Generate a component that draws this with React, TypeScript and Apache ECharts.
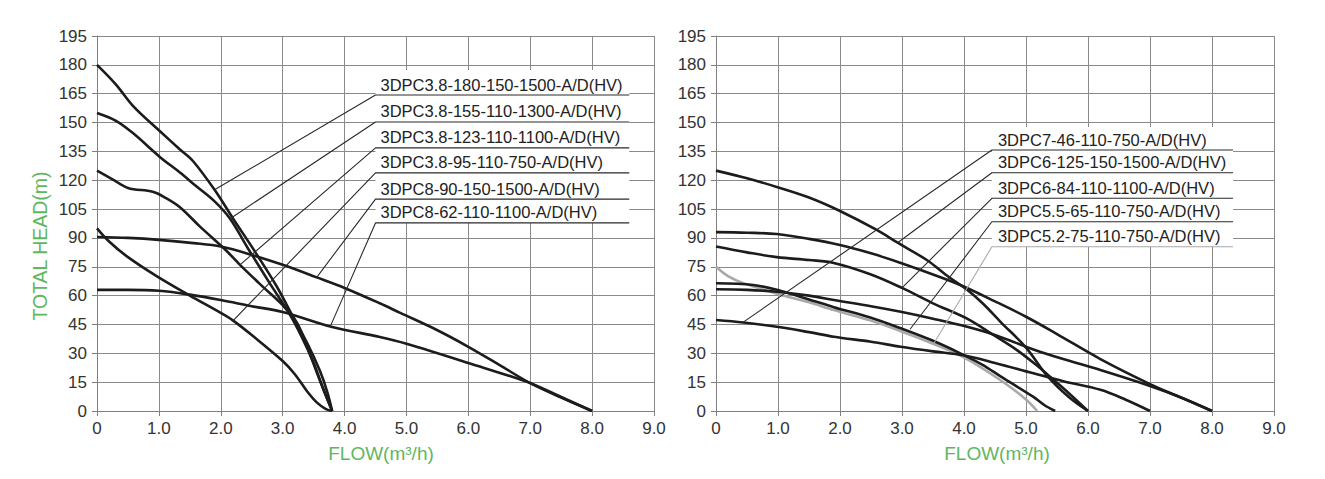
import React, { useEffect, useRef } from "react";
import * as echarts from "echarts";

// ---------- data ----------
const X_MAX = 9;
const Y_MAX = 195;
const X_INTERVAL = 1;
const Y_INTERVAL = 15;

// left chart curves [flow m3/h, head m]
const L180 = [[0,180],[0.3,170],[0.6,158],[1.0,146],[1.34,136],[1.55,130],[1.9,115],[2.2,100],[2.55,83],[2.9,65],[3.15,50],[3.4,35],[3.6,21],[3.72,10],[3.8,0]];
const L155 = [[0,155],[0.3,151],[0.58,144.5],[1.02,132],[1.34,124],[1.6,117],[1.9,109],[2.15,100],[2.45,84],[2.8,66],[3.1,51],[3.3,39],[3.5,25],[3.65,12],[3.8,0]];
const L123 = [[0,125],[0.25,120.5],[0.5,116],[0.9,114],[1.1,111],[1.34,106],[1.66,96],[2.07,84],[2.31,76],[2.7,64],[3.0,55],[3.23,46],[3.4,33],[3.6,16],[3.8,0]];
const L95 = [[0,95],[0.2,88],[0.5,80],[0.97,70],[1.5,60],[2.0,51],[2.2,47],[2.5,39.5],[3.0,26],[3.2,19],[3.4,10],[3.55,4.5],[3.7,1],[3.8,0]];
const L90 = [[0,90.5],[0.5,90],[1.0,89],[1.56,87.3],[2.0,85.5],[2.52,81],[3.0,76],[3.55,69.5],[4.0,64],[4.57,56],[4.9,51],[5.5,42],[6.0,33.4],[6.5,24],[7.0,14.5],[7.5,7],[8.0,0]];
const L62 = [[0,63],[0.5,63],[1.0,62.5],[1.5,60.5],[2.0,57.7],[2.5,54.5],[3.0,51.5],[3.8,43.7],[4.57,38.5],[5.0,35],[6.0,25],[7.0,14.5],[7.5,7.3],[8.0,0]];

// right chart curves
const R125 = [[0,125],[0.5,121],[0.98,116.5],[1.5,111],[2.0,104],[2.6,94],[2.93,87.5],[3.4,78.5],[3.7,71],[4.05,63],[4.3,56],[4.6,46],[5.0,33],[5.35,18],[5.7,7],[6.0,0]];
const R93 = [[0,93],[0.5,92.7],[0.98,92],[1.5,89.5],[2.0,86.3],[2.5,82],[2.98,77],[3.5,71],[3.94,65.5],[4.5,57],[5.0,49],[5.5,40],[6.2,27],[7.0,14],[7.5,7],[8.0,0]];
const R85 = [[0,85.5],[0.5,82.5],[0.98,80],[1.5,78.5],[1.9,77],[2.5,71],[3.0,64],[3.5,56],[4.05,48],[4.5,39],[4.86,31.5],[5.2,23],[5.4,17.5],[5.7,9],[6.0,0]];
const R75 = [[0,75],[0.2,70],[0.44,66.5],[0.98,61],[1.5,56.5],[1.9,52.5],[2.5,47],[2.98,41.5],[3.5,35],[3.99,28],[4.59,16],[5.0,6],[5.18,0]];
const R66 = [[0,66.4],[0.6,65.5],[0.98,63],[1.5,58],[1.9,54],[2.5,48.5],[2.98,43],[3.5,36.5],[3.94,30],[4.3,24],[4.59,18],[5.12,7.3],[5.3,3],[5.47,0]];
const R63 = [[0,63.3],[0.5,63],[0.98,62],[1.5,60],[1.9,57.7],[2.5,54.5],[2.98,51.6],[3.5,48],[4.05,43.8],[4.5,39.5],[5.12,32],[5.6,27],[6.2,21.3],[7.0,13],[7.5,7],[8.0,0]];
const R47 = [[0,47.3],[0.44,46],[0.98,43.8],[1.5,41],[1.9,38.6],[2.5,36],[2.98,33.4],[3.5,31],[3.99,29],[4.5,25],[5.12,19.6],[5.6,15.5],[6.2,11],[6.6,6],[7.0,0]];

const LEFT_LABELS = [
  "3DPC3.8-180-150-1500-A/D(HV)",
  "3DPC3.8-155-110-1300-A/D(HV)",
  "3DPC3.8-123-110-1100-A/D(HV)",
  "3DPC3.8-95-110-750-A/D(HV)",
  "3DPC8-90-150-1500-A/D(HV)",
  "3DPC8-62-110-1100-A/D(HV)",
];
const LEFT_TARGETS = [[1.9,115],[2.15,100],[2.31,76],[2.2,47],[3.55,69.5],[3.77,44]];
const LEFT_LABEL_Y = [164.3,150.3,136.8,123.8,110.2,97.8];

const RIGHT_LABELS = [
  "3DPC7-46-110-750-A/D(HV)",
  "3DPC6-125-150-1500-A/D(HV)",
  "3DPC6-84-110-1100-A/D(HV)",
  "3DPC5.5-65-110-750-A/D(HV)",
  "3DPC5.2-75-110-750-A/D(HV)",
];
const RIGHT_TARGETS = [[0.44,46.2],[2.93,87.5],[3.0,64],[3.13,42.5],[3.51,35]];
const RIGHT_LABEL_Y = [135.7,123.9,110.6,98.4,85.4];

// ---------- layout ----------
const W = 1325, H = 479;
const TOP = 36, PH = 375;
const G = [
  { left: 97, width: 557, jointX: 4.5, endX: 8.6, boxTop: 70 },
  { left: 716, width: 558, jointX: 4.45, endX: 8.34, boxTop: 127 },
];
const FONT = "'Liberation Sans', Arial, Helvetica, sans-serif";
const GREEN = "#5fb760";
const CURVE = "#1c1c1c";
const GRAYC = "#a9a9a9";

const px = (g: number, x: number) => G[g].left + (x / X_MAX) * G[g].width;
const py = (y: number) => TOP + ((Y_MAX - y) / Y_MAX) * PH;

export default function App() {
  const ref = useRef<HTMLDivElement>(null);
  useEffect(() => {
    if (!ref.current) return;
    const chart = echarts.init(ref.current, null, { renderer: "svg" });

    const mkAxisX = (i: number) => ({
      type: "value", gridIndex: i, min: 0, max: X_MAX, interval: X_INTERVAL,
      axisLine: { show: true, lineStyle: { color: "#808080", width: 1 } },
      axisTick: { show: true, length: 5, lineStyle: { color: "#808080" } },
      splitLine: { show: true, lineStyle: { color: "#8a8a8a", width: 1 } },
      axisLabel: {
        color: "#333", fontSize: 17, fontFamily: FONT, margin: 9,
        formatter: (v: number) => (v === 0 ? "0" : v.toFixed(1)),
      },
    });
    const mkAxisY = (i: number) => ({
      type: "value", gridIndex: i, min: 0, max: Y_MAX, interval: Y_INTERVAL,
      axisLine: { show: true, lineStyle: { color: "#808080", width: 1 } },
      axisTick: { show: true, length: 5, lineStyle: { color: "#808080" } },
      splitLine: { show: true, lineStyle: { color: "#8a8a8a", width: 1 } },
      axisLabel: { color: "#333", fontSize: 17, fontFamily: FONT, margin: 10 },
    });

    const curve = (g: number, data: number[][], color = CURVE) => ({
      type: "line", xAxisIndex: g, yAxisIndex: g, data, showSymbol: false,
      smooth: 0.35, z: 3,
      lineStyle: { color, width: 2.6 }, silent: true,
    });
    const leader = (g: number, target: number[], ly: number, color = "#2a2a2a") => ({
      type: "line", xAxisIndex: g, yAxisIndex: g, showSymbol: false, z: 4,
      data: [target, [G[g].jointX, ly], [G[g].endX, ly]],
      lineStyle: { color, width: 1.1 }, silent: true,
    });

    const series: any[] = [
      curve(0, L180), curve(0, L155), curve(0, L123), curve(0, L95), curve(0, L90), curve(0, L62),
      curve(1, R125), curve(1, R93), curve(1, R85), curve(1, R75, GRAYC), curve(1, R66), curve(1, R63), curve(1, R47),
    ];
    LEFT_TARGETS.forEach((t, i) => series.push(leader(0, t, LEFT_LABEL_Y[i])));
    RIGHT_TARGETS.forEach((t, i) =>
      series.push(leader(1, t, RIGHT_LABEL_Y[i], i === 4 ? GRAYC : "#2a2a2a")));

    const graphic: any[] = [];
    graphic.push({
      type: "rect", z: 1,
      shape: { x: px(0, G[0].jointX), y: G[0].boxTop, width: px(0, G[0].endX) - px(0, G[0].jointX), height: py(LEFT_LABEL_Y[5]) - G[0].boxTop },
      style: { fill: "#fff" },
    });
    graphic.push({
      type: "rect", z: 1,
      shape: { x: px(1, G[1].jointX), y: G[1].boxTop, width: px(1, G[1].endX) - px(1, G[1].jointX), height: py(RIGHT_LABEL_Y[4]) - G[1].boxTop },
      style: { fill: "#fff" },
    });
    LEFT_LABELS.forEach((t, i) =>
      graphic.push({
        type: "text", z: 10, x: px(0, G[0].jointX) + 5, y: py(LEFT_LABEL_Y[i]) - 10.5,
        style: { text: t, fill: "#222", font: `16.5px ${FONT}`, textAlign: "left", textVerticalAlign: "middle" },
      }));
    RIGHT_LABELS.forEach((t, i) =>
      graphic.push({
        type: "text", z: 10, x: px(1, G[1].jointX) + 6, y: py(RIGHT_LABEL_Y[i]) - 10.5,
        style: { text: t, fill: "#222", font: `16.5px ${FONT}`, textAlign: "left", textVerticalAlign: "middle" },
      }));
    graphic.push({
      type: "text", z: 10, x: 40, y: 246, rotation: Math.PI / 2,
      style: { text: "TOTAL HEAD(m)", fill: GREEN, font: `19.5px ${FONT}`, textAlign: "center", textVerticalAlign: "middle" },
    });
    graphic.push({
      type: "text", z: 10, x: 381, y: 453,
      style: { text: "FLOW(m³/h)", fill: GREEN, font: `19px ${FONT}`, textAlign: "center", textVerticalAlign: "middle" },
    });
    graphic.push({
      type: "text", z: 10, x: 997, y: 453,
      style: { text: "FLOW(m³/h)", fill: GREEN, font: `19px ${FONT}`, textAlign: "center", textVerticalAlign: "middle" },
    });

    chart.setOption({
      animation: false,
      backgroundColor: "#ffffff",
      grid: G.map((g) => ({ left: g.left, top: TOP, width: g.width, height: PH, containLabel: false })),
      xAxis: [mkAxisX(0), mkAxisX(1)],
      yAxis: [mkAxisY(0), mkAxisY(1)],
      series,
      graphic,
    });
    return () => chart.dispose();
  }, []);
  return (
    <div
      ref={ref}
      style={{ position: "fixed", left: 0, top: 0, width: W, height: H, background: "#fff" }}
    />
  );
}
